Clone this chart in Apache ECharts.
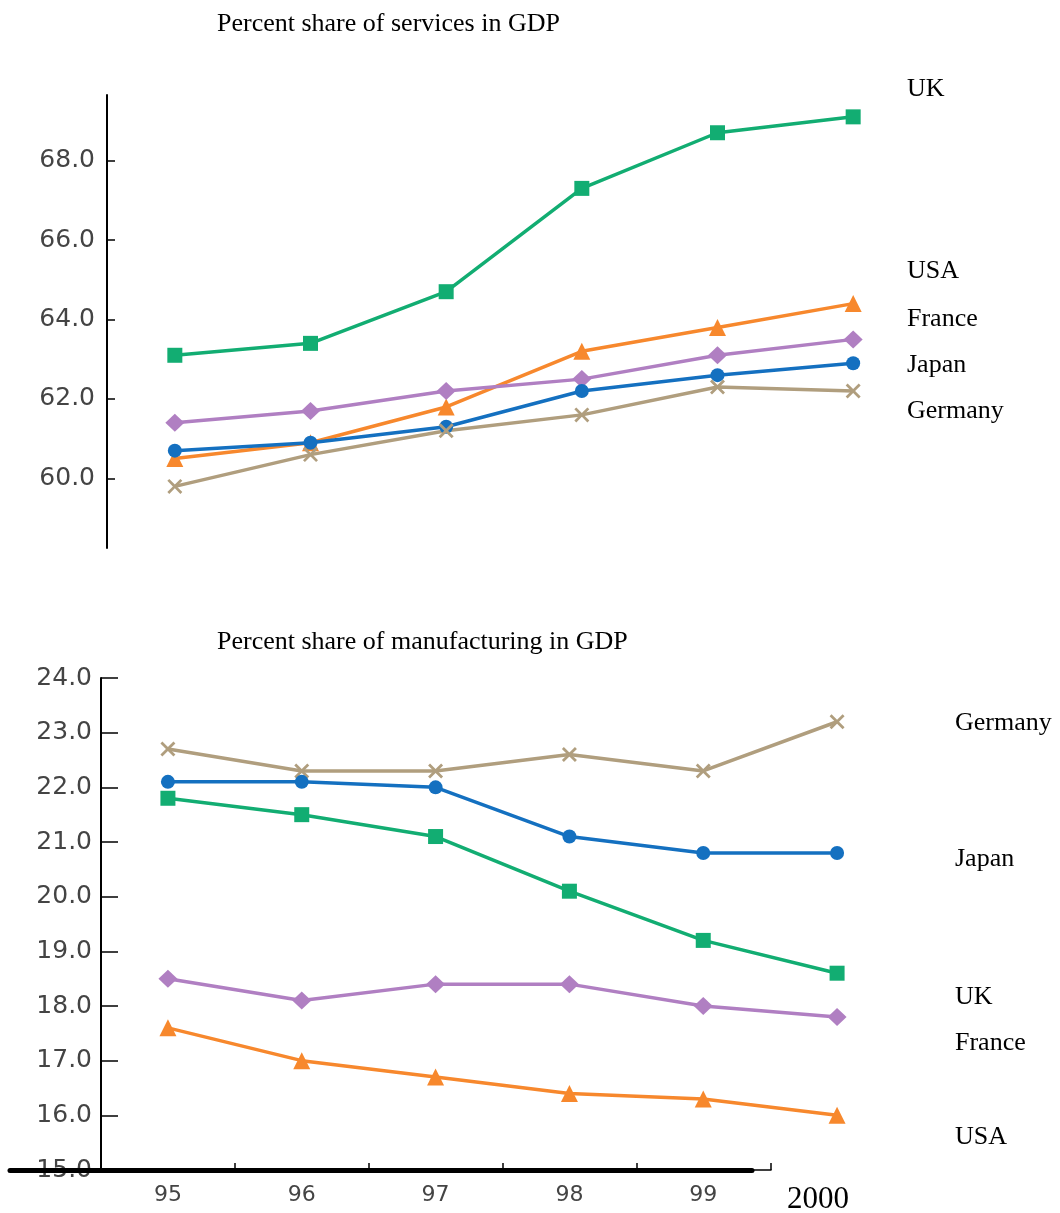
<!DOCTYPE html>
<html>
<head>
<meta charset="utf-8">
<script src="https://cdn.jsdelivr.net/npm/echarts@6/dist/echarts.min.js"></script>
<style>
html,body{margin:0;padding:0;background:#fff;}
#chart{width:1060px;height:1213px;}
</style>
</head>
<body>
<div id="chart"></div>
<script>
// ---- data ----
var years = ['95', '96', '97', '98', '99', '2000'];
var thinAxisYears = ['95', '96', '97', '98', '99'];
var servicesTicks = [60, 62, 64, 66, 68];

var servicesUK      = [63.1, 63.4, 64.7, 67.3, 68.7, 69.1];
var servicesUSA     = [60.5, 60.9, 61.8, 63.2, 63.8, 64.4];
var servicesFrance  = [61.4, 61.7, 62.2, 62.5, 63.1, 63.5];
var servicesJapan   = [60.7, 60.9, 61.3, 62.2, 62.6, 62.9];
var servicesGermany = [59.8, 60.6, 61.2, 61.6, 62.3, 62.2];

var manufGermany = [22.7, 22.3, 22.3, 22.6, 22.3, 23.2];
var manufJapan   = [22.1, 22.1, 22.0, 21.1, 20.8, 20.8];
var manufUK      = [21.8, 21.5, 21.1, 20.1, 19.2, 18.6];
var manufFrance  = [18.5, 18.1, 18.4, 18.4, 18.0, 17.8];
var manufUSA     = [17.6, 17.0, 16.7, 16.4, 16.3, 16.0];

var titleServices = 'Percent share of services in GDP';
var titleManuf = 'Percent share of manufacturing in GDP';
var labelsServices = ['UK', 'USA', 'France', 'Japan', 'Germany'];
var labelsManuf = ['Germany', 'Japan', 'UK', 'France', 'USA'];

// ---- styles ----
var C = {
  UK: '#12ad72',
  USA: '#f7882d',
  France: '#b07fc2',
  Japan: '#1470c0',
  Germany: '#b09e7e'
};
var SYM = {
  UK: {symbol: 'rect', size: 15},
  USA: {symbol: 'triangle', size: 17},
  France: {symbol: 'diamond', size: [19, 18]},
  Japan: {symbol: 'circle', size: 14},
  Germany: {symbol: 'path://M0,1.3 L1.3,0 L5,3.7 L8.7,0 L10,1.3 L6.3,5 L10,8.7 L8.7,10 L5,6.3 L1.3,10 L0,8.7 L3.7,5 Z', size: 15}
};
var serif = '"Liberation Serif", "Times New Roman", serif';
var sans = '"DejaVu Sans", sans-serif';

function line(name, data, xi, yi) {
  return {
    type: 'line', name: name, data: data,
    xAxisIndex: xi, yAxisIndex: yi,
    symbol: SYM[name].symbol, symbolSize: SYM[name].size,
    showAllSymbol: true,
    lineStyle: {color: C[name], width: 3.5},
    itemStyle: {color: C[name]},
    z: 5
  };
}

var chart = echarts.init(document.getElementById('chart'), null, {renderer: 'canvas'});

var topLabelY = [88, 270, 318, 364, 410];
var botLabelY = [722, 858, 996, 1042, 1136];
var graphics = [
  {type: 'text', left: 217, top: 11, style: {text: titleServices, font: '26px ' + serif, fill: '#000'}},
  {type: 'text', left: 217, top: 629, style: {text: titleManuf, font: '26px ' + serif, fill: '#000'}}
];
labelsServices.forEach(function (t, i) {
  graphics.push({type: 'text', left: 907, top: topLabelY[i] - 12, style: {text: t, font: '26px ' + serif, fill: '#000'}});
});
labelsManuf.forEach(function (t, i) {
  graphics.push({type: 'text', left: 955, top: botLabelY[i] - 12, style: {text: t, font: '26px ' + serif, fill: '#000'}});
});

var option = {
  animation: false,
  backgroundColor: '#fff',
  graphic: graphics,
  grid: [
    {left: 107, top: 95, width: 814, height: 453, outerBoundsMode: 'none'},
    {left: 101, top: 678, width: 803, height: 492, outerBoundsMode: 'none'},
    {left: 101, top: 678, width: 670, height: 492, outerBoundsMode: 'none'},
    {left: 10, top: 678, width: 742, height: 492, outerBoundsMode: 'none'}
  ],
  xAxis: [
    {gridIndex: 0, type: 'category', data: years, boundaryGap: true, show: false},
    {gridIndex: 1, type: 'category', data: years, boundaryGap: true,
      axisLine: {show: false}, axisTick: {show: false},
      axisLabel: {
        interval: 0, hideOverlap: false,
        margin: 14, color: '#444', fontFamily: sans, fontSize: 22,
        formatter: function (v) { return v === '2000' ? '{y|' + v + '}' : v; },
        rich: {y: {fontFamily: serif, fontSize: 31, color: '#000', padding: [0, 38, 0, 0]}}
      }
    },
    {gridIndex: 2, type: 'category', data: thinAxisYears, boundaryGap: true,
      axisLine: {show: true, lineStyle: {color: '#000', width: 1.5}},
      axisTick: {show: true, inside: true, length: 7, lineStyle: {color: '#000', width: 1.5}},
      axisLabel: {show: false}
    },
    {gridIndex: 3, type: 'value', min: 0, max: 1, z: 20,
      axisLine: {show: true, lineStyle: {color: '#000', width: 5}},
      axisTick: {show: false}, axisLabel: {show: false}, splitLine: {show: false}
    }
  ],
  yAxis: [
    {gridIndex: 0, type: 'value', min: 58.25, max: 69.65,
      axisLine: {show: true, lineStyle: {color: '#000', width: 2}},
      axisTick: {show: true, inside: true, length: 8, lineStyle: {color: '#000', width: 1.5}, customValues: servicesTicks},
      axisLabel: {margin: 12, color: '#444', fontFamily: sans, fontSize: 25,
        customValues: servicesTicks,
        formatter: function (v) { return Number(v).toFixed(1); }},
      splitLine: {show: false}
    },
    {gridIndex: 1, type: 'value', min: 15, max: 24, interval: 1,
      axisLine: {show: true, lineStyle: {color: '#000', width: 2}},
      axisTick: {show: true, inside: true, length: 17, lineStyle: {color: '#000', width: 1.5}},
      axisLabel: {margin: 9, color: '#444', fontFamily: sans, fontSize: 25,
        formatter: function (v) { return Number(v).toFixed(1); }},
      splitLine: {show: false}
    },
    {gridIndex: 2, type: 'value', min: 0, max: 1, show: false},
    {gridIndex: 3, type: 'value', min: 0, max: 1, show: false}
  ],
  series: [
    line('UK', servicesUK, 0, 0),
    line('USA', servicesUSA, 0, 0),
    line('France', servicesFrance, 0, 0),
    line('Japan', servicesJapan, 0, 0),
    line('Germany', servicesGermany, 0, 0),
    line('Germany', manufGermany, 1, 1),
    line('Japan', manufJapan, 1, 1),
    line('UK', manufUK, 1, 1),
    line('France', manufFrance, 1, 1),
    line('USA', manufUSA, 1, 1)
  ]
};
chart.setOption(option);
</script>
</body>
</html>
